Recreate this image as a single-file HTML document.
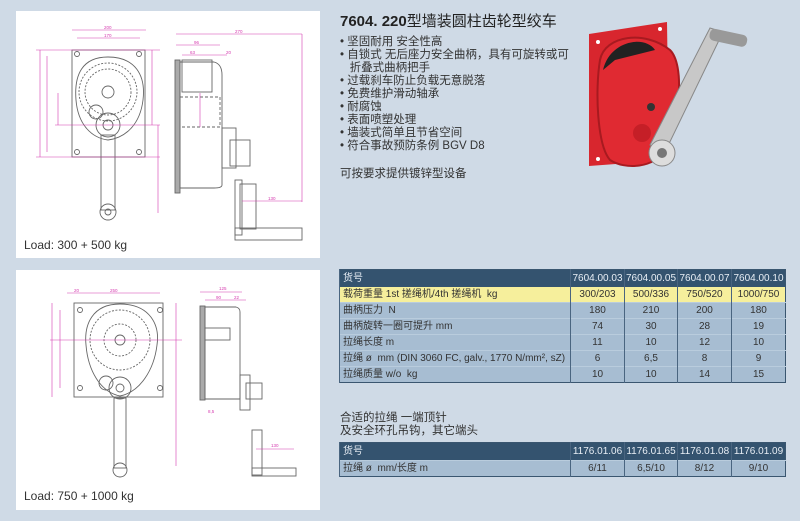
<!DOCTYPE html>
<html><head><meta charset="utf-8"><style>
body{margin:0;width:800px;height:521px;background:#cfdae6;position:relative;overflow:hidden;font-family:"Liberation Sans","Noto Sans CJK SC",sans-serif;color:#333;}
.panel{position:absolute;background:#fff;}
.t{position:absolute;font-size:11.5px;line-height:13px;}
table{position:absolute;border-collapse:collapse;font-size:10px;table-layout:fixed;border:1px solid #3a5670;}
td{height:15px;line-height:15px;padding:0 3px;border-left:1px solid #4a6580;color:#333;white-space:nowrap;overflow:hidden;vertical-align:middle;}
td.n{text-align:center;padding:0;}
tr.h td{background:#34536f;color:#e8eef5;height:17px;line-height:17px;}
tr.y td{background:#f6ef9c;}
tr.b td{background:#a7bdd2;border-top:1px solid #b9ccdd;}
</style></head><body>
<div class="panel" style="left:16px;top:11px;width:304px;height:247px"></div>
<div class="panel" style="left:16px;top:270px;width:304px;height:240px"></div>

<svg style="position:absolute;left:0;top:0" width="330" height="521" viewBox="0 0 330 521">
<g fill="none" stroke="#666" stroke-width="0.9">
<rect x="72" y="50" width="73" height="107"/>
<circle cx="77" cy="54" r="2.5"/><circle cx="139" cy="54" r="2.5"/><circle cx="77" cy="152" r="2.5"/><circle cx="139" cy="152" r="2.5"/>
<path d="M108 57 C135 57 146 75 143 100 C140 125 125 138 108 140 C92 138 78 125 76 100 C74 75 82 57 108 57Z"/>
<circle cx="108" cy="92" r="23" stroke-dasharray="2 1.5"/><circle cx="108" cy="92" r="29" stroke-dasharray="2 1.5"/>
<circle cx="108" cy="92" r="6"/>
<circle cx="108" cy="125" r="12"/><circle cx="108" cy="125" r="5"/><circle cx="96" cy="112" r="7"/>
<rect x="101" y="135" width="14" height="75"/><circle cx="108" cy="212" r="8"/><circle cx="108" cy="212" r="3"/>
<rect x="175" y="60" width="5" height="133" fill="#aaa"/>
<path d="M180 62 H214 Q222 64 222 75 V185 Q222 188 214 188 H180Z"/>
<rect x="182" y="60" width="30" height="32"/>
<rect x="180" y="97" width="40" height="30" stroke-dasharray="3 2"/>
<rect x="222" y="128" width="14" height="40"/><rect x="230" y="140" width="20" height="26"/>
<rect x="235" y="180" width="7" height="55"/><rect x="240" y="184" width="16" height="45"/>
<rect x="235" y="228" width="67" height="12"/>
<rect x="74" y="303" width="89" height="94"/>
<circle cx="80" cy="310" r="2.5"/><circle cx="160" cy="310" r="2.5"/><circle cx="80" cy="388" r="2.5"/><circle cx="160" cy="388" r="2.5"/>
<path d="M120 304 C150 304 160 325 157 345 C154 370 140 392 120 396 C100 392 88 370 86 345 C84 325 92 304 120 304Z"/>
<circle cx="120" cy="340" r="16" stroke-dasharray="2 1.5"/><circle cx="120" cy="340" r="30" stroke-dasharray="2 1.5"/><circle cx="120" cy="340" r="5"/>
<circle cx="120" cy="388" r="11"/><circle cx="120" cy="388" r="4"/><circle cx="106" cy="383" r="7"/>
<rect x="114" y="398" width="12" height="70"/><circle cx="120" cy="470" r="7"/>
<rect x="200" y="306" width="5" height="94" fill="#aaa"/>
<path d="M205 307 H236 Q240 308 240 312 V399 H205Z"/>
<rect x="205" y="328" width="25" height="12"/>
<rect x="240" y="375" width="10" height="35"/><rect x="246" y="383" width="16" height="16"/>
<rect x="252" y="430" width="10" height="45"/><rect x="252" y="468" width="44" height="8"/>
</g>
<g stroke="#d63cb0" stroke-width="0.6" fill="none">
<line x1="72" y1="30" x2="146" y2="30"/><line x1="77" y1="38" x2="140" y2="38"/>
<line x1="40" y1="50" x2="40" y2="157"/><line x1="47" y1="56" x2="47" y2="152"/><line x1="58" y1="93" x2="58" y2="125"/>
<line x1="152" y1="50" x2="152" y2="125"/><line x1="158" y1="125" x2="158" y2="213"/>
<line x1="36" y1="50" x2="160" y2="50"/><line x1="36" y1="157" x2="160" y2="157"/><line x1="55" y1="125" x2="160" y2="125"/>
<line x1="176" y1="34" x2="302" y2="34"/><line x1="176" y1="45" x2="220" y2="45"/><line x1="182" y1="55" x2="227" y2="55"/>
<line x1="302" y1="34" x2="302" y2="202"/><line x1="242" y1="201" x2="302" y2="201"/><line x1="200" y1="93" x2="200" y2="127"/>
<line x1="67" y1="293" x2="160" y2="293"/><line x1="52" y1="303" x2="52" y2="397"/><line x1="60" y1="310" x2="60" y2="388"/>
<line x1="176" y1="303" x2="176" y2="388"/><line x1="176" y1="388" x2="176" y2="466"/><line x1="50" y1="340" x2="182" y2="340"/>
<line x1="200" y1="292" x2="242" y2="292"/><line x1="205" y1="300" x2="246" y2="300"/><line x1="256" y1="449" x2="294" y2="449"/>
</g>
<g fill="#d63cb0" font-size="4.5" font-family="Liberation Sans">
<text x="104" y="29">200</text><text x="104" y="37">170</text><text x="235" y="33">270</text><text x="194" y="44">96</text><text x="190" y="54">63</text><text x="226" y="54">20</text><text x="268" y="200">130</text>
<text x="110" y="292">250</text><text x="74" y="292">20</text><text x="219" y="290">125</text><text x="216" y="299">90</text><text x="234" y="299">22</text><text x="271" y="447">130</text><text x="208" y="413">8,5</text>
</g>
</svg>
<div class="t" style="left:24px;top:239px;font-size:12px">Load: 300 + 500 kg</div>
<div class="t" style="left:24px;top:490px;font-size:12px">Load: 750 + 1000 kg</div>

<div class="t" style="left:340px;top:13px;font-size:15px;line-height:18px;color:#222"><b>7604. 220</b>型墙装圆柱齿轮型绞车</div>
<div class="t" style="left:340px;top:36px;line-height:13px">
• 坚固耐用 安全性高<br>• 自锁式 无后座力安全曲柄，具有可旋转或可<br>&nbsp;&nbsp;&nbsp;折叠式曲柄把手<br>• 过载刹车防止负载无意脱落<br>• 免费维护滑动轴承<br>• 耐腐蚀<br>• 表面喷塑处理<br>• 墙装式简单且节省空间<br>• 符合事故预防条例 BGV D8</div>
<div class="t" style="left:340px;top:168px">可按要求提供镀锌型设备</div>

<svg style="position:absolute;left:585px;top:20px" width="170" height="150" viewBox="0 0 170 150">
<path d="M4 14 L82 2 L84 140 L4 146Z" fill="#d8262e"/>
<path d="M15 40 C20 15 60 10 85 30 C100 45 95 100 80 130 C70 148 40 150 25 140 C12 125 10 70 15 40Z" fill="#e02a32" stroke="#a81a20" stroke-width="2"/>
<path d="M18 50 C25 20 60 15 70 30 L30 40Z" fill="#222"/>
<circle cx="66" cy="87" r="4" fill="#333"/>
<circle cx="57" cy="113" r="9" fill="#c51f27"/>
<path d="M65 125 L125 8 L138 12 L80 132Z" fill="#c8c8c8" stroke="#888"/>
<rect x="126" y="8" width="38" height="12" rx="5" fill="#999" transform="rotate(12 126 8)"/>
<circle cx="77" cy="133" r="13" fill="#ddd" stroke="#888"/><circle cx="77" cy="133" r="5" fill="#777"/>
<g fill="#fff"><circle cx="13" cy="22" r="2"/><circle cx="75" cy="9" r="2"/><circle cx="13" cy="139" r="2"/></g>
</svg>

<table style="left:339px;top:269px;width:446px">
<colgroup><col style="width:231px"><col style="width:54px"><col style="width:53px"><col style="width:54px"><col style="width:54px"></colgroup>
<tr class="h"><td>货号</td><td class="n">7604.00.03</td><td class="n">7604.00.05</td><td class="n">7604.00.07</td><td class="n">7604.00.10</td></tr>
<tr class="y"><td>载荷重量 1st 搓绳机/4th 搓绳机&nbsp; kg</td><td class="n">300/203</td><td class="n">500/336</td><td class="n">750/520</td><td class="n">1000/750</td></tr>
<tr class="b"><td>曲柄压力&nbsp; N</td><td class="n">180</td><td class="n">210</td><td class="n">200</td><td class="n">180</td></tr>
<tr class="b"><td>曲柄旋转一圈可提升 mm</td><td class="n">74</td><td class="n">30</td><td class="n">28</td><td class="n">19</td></tr>
<tr class="b"><td>拉绳长度 m</td><td class="n">11</td><td class="n">10</td><td class="n">12</td><td class="n">10</td></tr>
<tr class="b"><td>拉绳 ø&nbsp; mm (DIN 3060 FC, galv., 1770 N/mm², sZ)</td><td class="n">6</td><td class="n">6,5</td><td class="n">8</td><td class="n">9</td></tr>
<tr class="b"><td>拉绳质量 w/o&nbsp; kg</td><td class="n">10</td><td class="n">10</td><td class="n">14</td><td class="n">15</td></tr>
</table>

<div class="t" style="left:340px;top:412px">合适的拉绳 一端顶针<br>及安全环孔吊钩，其它端头</div>
<table style="left:339px;top:442px;width:446px">
<colgroup><col style="width:231px"><col style="width:54px"><col style="width:53px"><col style="width:54px"><col style="width:54px"></colgroup>
<tr class="h"><td>货号</td><td class="n">1176.01.06</td><td class="n">1176.01.65</td><td class="n">1176.01.08</td><td class="n">1176.01.09</td></tr>
<tr class="b"><td>拉绳 ø&nbsp; mm/长度 m</td><td class="n">6/11</td><td class="n">6,5/10</td><td class="n">8/12</td><td class="n">9/10</td></tr>
</table>
</body></html>
